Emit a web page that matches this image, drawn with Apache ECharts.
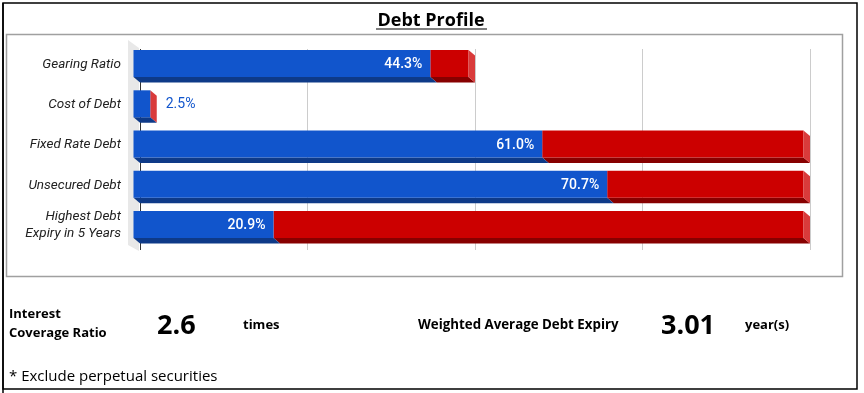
<!DOCTYPE html>
<html><head><meta charset="utf-8">
<script src="https://cdn.jsdelivr.net/npm/echarts@6/dist/echarts.min.js"></script>
<style>html,body{margin:0;padding:0;background:#fff}#c{width:864px;height:393px}</style>
</head><body><div id="c"></div>
<script>
const categories = ['Gearing Ratio', 'Cost of Debt', 'Fixed Rate Debt', 'Unsecured Debt', 'Highest Debt\nExpiry in 5 Years'];
const actualValues = [44.3, 2.5, 61.0, 70.7, 20.9];
const limitValues = [50, 2.5, 100, 100, 100];
const xTicks = [0, 25, 50, 75, 100];
const interestCoverage = '2.6';
const weightedExpiry = '3.01';

const DX = 6.5, DY = 5.5, BH = 27;
const blueData = actualValues.map((v, i) => [0, v, i]);
const redData = actualValues.map((v, i) => [v, Math.max(v, limitValues[i]), i]);

function make3D(face, bottom, side, withLabel) {
  return function (params, api) {
    const s = api.coord([api.value(0), api.value(2)]);
    const e = api.coord([api.value(1), api.value(2)]);
    const x0 = s[0] - DX, x1 = e[0] - DX;
    const cy = s[1] - DY;
    const y0 = cy - BH / 2, y1 = cy + BH / 2;
    const children = [
      { type: 'polygon', shape: { points: [[x0, y1], [x1, y1], [x1 + DX, y1 + DY], [x0 + DX, y1 + DY]] }, style: { fill: bottom } },
      { type: 'rect', shape: { x: x0, y: y0, width: Math.max(0, x1 - x0), height: BH }, style: { fill: face } }
    ];
    if (side) {
      children.push({ type: 'polygon', shape: { points: [[x1, y0], [x1 + DX, y0 + DY], [x1 + DX, y1 + DY], [x1, y1]] }, style: { fill: side } });
    }
    if (withLabel) {
      const v = api.value(1);
      const txt = v.toFixed(1) + '%';
      if (v > 10) {
        children.push({ type: 'text', style: { text: txt, x: x1 - 8, y: cy + 1, align: 'right', verticalAlign: 'middle', fill: '#ffffff', font: '500 14px Roboto' } });
      } else {
        children.push({ type: 'text', style: { text: txt, x: x1 + DX + 9, y: cy + 1, align: 'left', verticalAlign: 'middle', fill: '#1155cc', font: '400 14px Roboto' } });
      }
      children.push({ type: 'text', style: { text: categories[api.value(2)], x: s[0] - 19, y: cy + 1, align: 'right', verticalAlign: 'middle', fill: '#222222', font: 'italic 13.5px Roboto', lineHeight: 17 } });
    }
    return { type: 'group', children };
  };
}

const chart = echarts.init(document.getElementById('c'), null, { renderer: 'canvas' });
chart.setOption({
  animation: false,
  grid: { left: 140, right: 54, top: 49, bottom: 143 },
  xAxis: {
    type: 'value', min: xTicks[0], max: xTicks[xTicks.length - 1], interval: xTicks[1] - xTicks[0],
    axisLabel: { show: false }, axisLine: { show: false }, axisTick: { show: false },
    splitLine: { show: true, lineStyle: { color: ['#333333', '#cccccc', '#cccccc', '#cccccc', '#cccccc'], width: 1 } }
  },
  yAxis: {
    type: 'category', data: categories, inverse: true,
    axisLine: { show: false }, axisTick: { show: false }, axisLabel: { show: false }
  },
  graphic: [
    { type: 'rect', shape: { x: 3, y: 3, width: 854, height: 386 }, style: { fill: 'none', stroke: '#000', lineWidth: 1.5 }, z: 10 },
    { type: 'line', shape: { x1: 3, y1: 3, x2: 3, y2: 393 }, style: { stroke: '#000', lineWidth: 1.5 }, z: 10 },
    { type: 'rect', shape: { x: 6.5, y: 34.5, width: 836, height: 242 }, style: { fill: 'none', stroke: '#a0a0a0', lineWidth: 1.5 }, z: 10 },
    { type: 'polygon', shape: { points: [[128, 40], [139, 48], [139, 251], [128, 245]] }, style: { fill: '#e8e8e8' }, z: -1 },
    { type: 'text', style: { text: 'Debt Profile', x: 431, y: 21, align: 'center', verticalAlign: 'middle', font: 'bold 18px "Open Sans"', fill: '#000' } },
    { type: 'line', shape: { x1: 376, y1: 29, x2: 487, y2: 29 }, style: { stroke: '#000', lineWidth: 1.2 } },
    { type: 'text', style: { text: 'Interest', x: 9, y: 314, verticalAlign: 'middle', font: 'bold 13px "Open Sans"', fill: '#000' } },
    { type: 'text', style: { text: 'Coverage Ratio', x: 9, y: 333, verticalAlign: 'middle', font: 'bold 13px "Open Sans"', fill: '#000' } },
    { type: 'text', style: { text: interestCoverage, x: 157, y: 326, verticalAlign: 'middle', font: 'bold 27px "Open Sans"', fill: '#000' } },
    { type: 'text', style: { text: 'times', x: 243, y: 325, verticalAlign: 'middle', font: 'bold 13px "Open Sans"', fill: '#000' } },
    { type: 'text', style: { text: 'Weighted Average Debt Expiry', x: 418, y: 325, verticalAlign: 'middle', font: 'bold 13.3px "Open Sans"', fill: '#000' } },
    { type: 'text', style: { text: weightedExpiry, x: 661, y: 326, verticalAlign: 'middle', font: 'bold 27px "Open Sans"', fill: '#000' } },
    { type: 'text', style: { text: 'year(s)', x: 745, y: 325, verticalAlign: 'middle', font: 'bold 13px "Open Sans"', fill: '#000' } },
    { type: 'text', style: { text: '* Exclude perpetual securities', x: 9, y: 377, verticalAlign: 'middle', font: '15px "Open Sans"', fill: '#000' } }
  ],
  series: [
    { type: 'custom', name: 'Actual', data: blueData, encode: { x: [0, 1], y: 2 }, renderItem: make3D('#1155cc', '#0e3a88', null, true), z: 3 },
    { type: 'custom', name: 'Limit', data: redData, encode: { x: [0, 1], y: 2 }, renderItem: make3D('#cc0000', '#870000', '#d93b3b', false), z: 2 }
  ]
});
</script></body></html>
